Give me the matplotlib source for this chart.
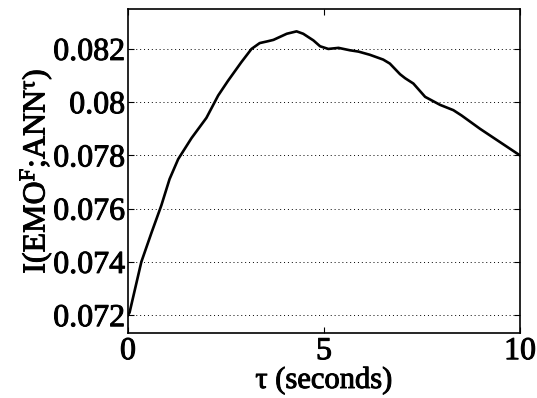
import matplotlib
matplotlib.use('Agg')
import matplotlib.pyplot as plt
import matplotlib.patheffects as pe

# curve
tau = [0.0, 0.04, 0.34, 0.60, 0.85, 1.06, 1.28, 1.62, 2.0, 2.30, 2.55, 2.89, 3.15,
       3.36, 3.57, 3.71, 4.05, 4.30, 4.47, 4.73, 4.90, 5.11, 5.37, 5.66, 5.88,
       6.17, 6.51, 6.68, 6.94, 7.07, 7.28, 7.58, 7.96, 8.30, 8.51, 8.98, 9.49, 10.0]
mi = [0.07200, 0.07210, 0.07400, 0.07510, 0.07612, 0.07711, 0.07786, 0.07865, 0.07941,
      0.08025, 0.08080, 0.08150, 0.08200, 0.08222, 0.08229, 0.08234, 0.08257, 0.08266,
      0.08257, 0.08232, 0.08210, 0.08200, 0.08204, 0.08195, 0.08190, 0.08178, 0.08160,
      0.08145, 0.08105, 0.08090, 0.08070, 0.08020, 0.07990, 0.07970, 0.07950, 0.07900,
      0.07850, 0.07800]

xticks = [0, 5, 10]
yticks = [0.072, 0.074, 0.076, 0.078, 0.08, 0.082]
ytick_labels = ['0.072', '0.074', '0.076', '0.078', '0.08', '0.082']

plt.rcParams['font.family'] = ['Liberation Serif', 'DejaVu Serif']
plt.rcParams['mathtext.fontset'] = 'custom'
plt.rcParams['mathtext.rm'] = 'Liberation Serif'
plt.rcParams['mathtext.it'] = 'Liberation Serif:italic'
plt.rcParams['mathtext.bf'] = 'Liberation Serif:bold'

fig = plt.figure(figsize=(5.37, 3.98), dpi=100)
ax = fig.add_axes([128 / 537, 65 / 398, 392 / 537, 324 / 398])

ax.plot(tau, mi, color='black', linewidth=1.9)

ax.set_xlim(0, 10)
ax.set_ylim(0.07133, 0.08350)
ax.set_xticks(xticks)
ax.set_yticks(yticks)
ax.set_yticklabels(ytick_labels)
ax.yaxis.grid(True, linestyle=(0, (1, 3)), color='black', linewidth=0.7)
ax.tick_params(direction='in', top=True, right=True, labelsize=23, length=4, width=0.8)
ax.tick_params(axis='x', pad=3)
ax.tick_params(axis='y', pad=2)
for s in ax.spines.values():
    s.set_linewidth(1.2)

ax.set_xlabel(r'$\mathrm{\tau}$ (seconds)', fontsize=22, labelpad=-2)
ax.set_ylabel(r'I(EMO$^{\mathrm{F}}$;ANN$^{\mathrm{\tau}}$)', fontsize=23, labelpad=0)

# slightly heavier text, like the reference export
thick = [pe.withStroke(linewidth=0.7, foreground='black')]
for t in ax.get_xticklabels() + ax.get_yticklabels() + [ax.xaxis.label, ax.yaxis.label]:
    t.set_path_effects(thick)

fig.savefig('out.png', dpi=100)
